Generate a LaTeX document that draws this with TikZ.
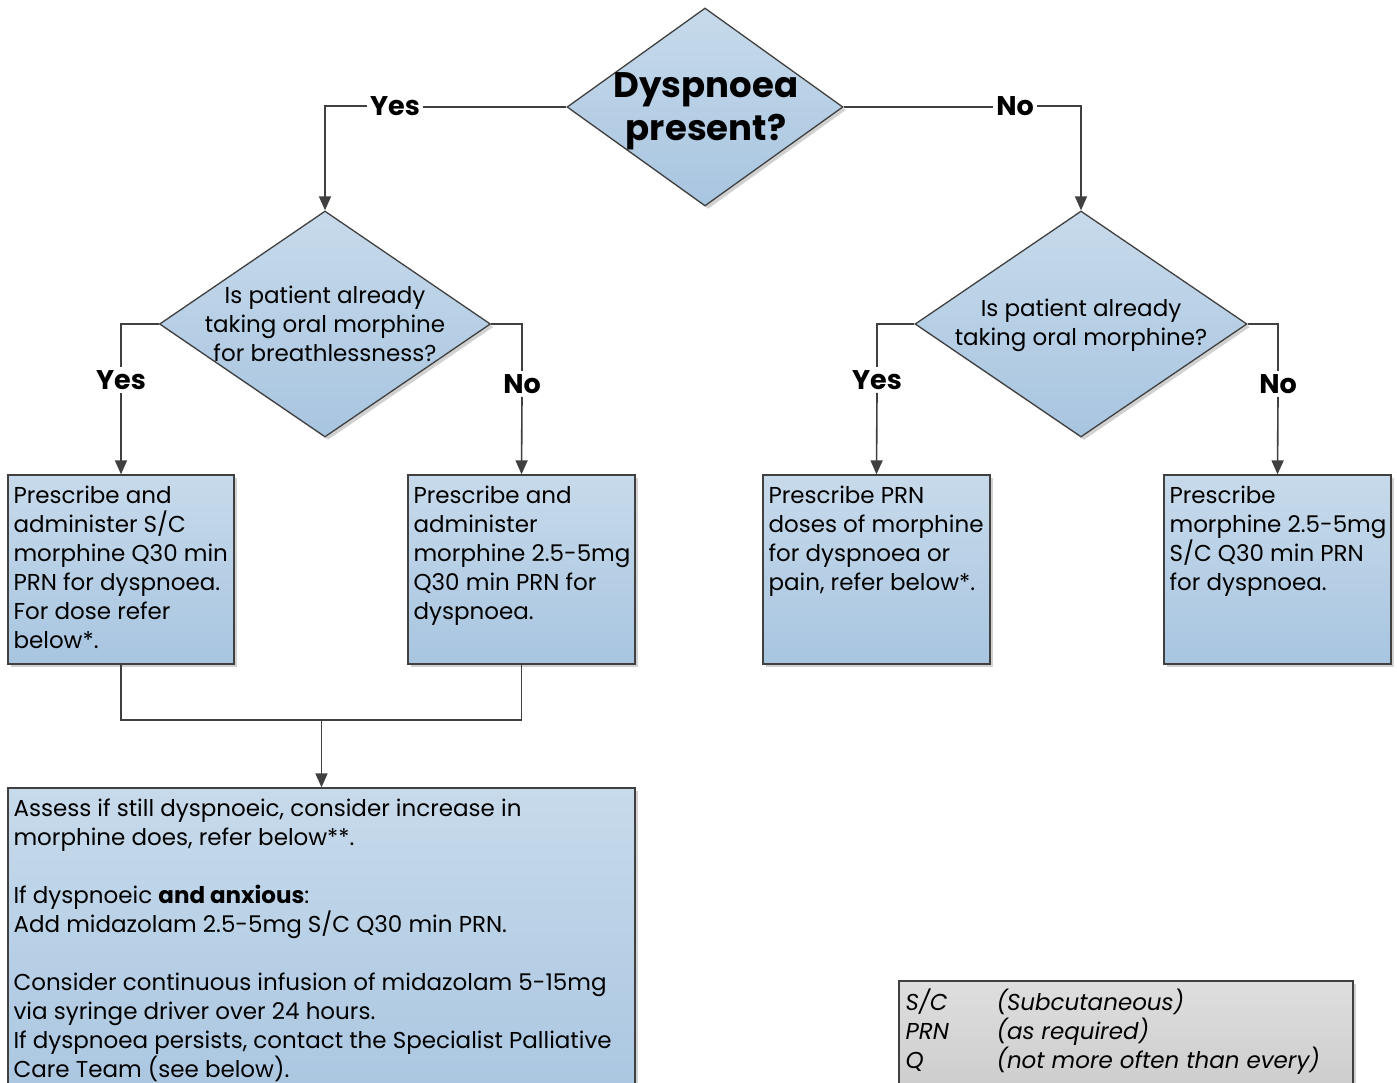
\documentclass[tikz,border=0pt]{standalone}
\usepackage{fontspec}
\setmainfont{Poppins}
\usetikzlibrary{shapes.geometric,arrows.meta,shadows}
\definecolor{bluetop}{RGB}{199,218,235}
\definecolor{bluebot}{RGB}{168,197,224}
\definecolor{edgec}{RGB}{64,64,64}
\definecolor{greytop}{RGB}{222,222,222}
\definecolor{greybot}{RGB}{200,200,200}
\tikzset{
  shad/.style={drop shadow={shadow xshift=3pt,shadow yshift=-3pt,fill=black,opacity=0.18}},
  dia/.style={diamond, draw=edgec, line width=1.3pt, top color=bluetop, bottom color=bluebot, inner sep=0pt, shad},
  boxn/.style={rectangle, draw=edgec, line width=1.3pt, top color=bluetop, bottom color=bluebot, inner sep=0pt, shad},
  legn/.style={rectangle, draw=edgec, line width=1.3pt, top color=greytop, bottom color=greybot, inner sep=0pt, shad},
  txt/.style={anchor=north west, inner sep=0pt, align=left, font=\fontsize{23}{29}\selectfont},
  dtxt/.style={inner sep=0pt, align=center, font=\fontsize{23}{29}\selectfont},
  lbl/.style={inner sep=3pt, fill=white, font=\fontsize{27}{30}\selectfont\bfseries},
  ln/.style={draw=edgec, line width=1.6pt},
  arr/.style={ln, -{Triangle[length=14pt,width=12pt]}},
}
\begin{document}
\begin{tikzpicture}[x=1pt,y=-1pt]
\path[use as bounding box] (0,0) rectangle (1397,1083);
\clip (0,0) rectangle (1397,1083);
\fill[white] (0,0) rectangle (1397,1083);

% diamonds
\node[dia, minimum width=276pt, minimum height=198pt] (d0) at (705,107) {};
\node[inner sep=0pt, align=center, font=\fontsize{35.5}{43}\selectfont\bfseries] (d0t) at (706,111) {Dyspnoea\\present?};
\node[dia, minimum width=331pt, minimum height=226pt] (dl) at (325,324) {};
\node[dtxt] (dlt) at (325,324) {Is patient already\\taking oral morphine\\for breathlessness?};
\node[dia, minimum width=332pt, minimum height=226pt] (dr) at (1081,324) {};
\node[dtxt] (drt) at (1081,325) {Is patient already\\taking oral morphine?};

% boxes
\node[boxn, minimum width=226pt, minimum height=189pt] (b1) at (121,569.5) {};
\node[boxn, minimum width=227pt, minimum height=189pt] (b2) at (521.5,569.5) {};
\node[boxn, minimum width=227pt, minimum height=189pt] (b3) at (876.5,569.5) {};
\node[boxn, minimum width=227pt, minimum height=189pt] (b4) at (1277.5,569.5) {};
\node[boxn, minimum width=627pt, minimum height=330pt] (b5) at (321.5,953) {};
\node[legn, minimum width=454pt, minimum height=140pt] (lg) at (1126,1051) {};

\node[txt] (t1) at ([xshift=6pt,yshift=-11pt]b1.north west) {Prescribe and\\administer S/C\\morphine Q30 min\\PRN for dyspnoea.\\For dose refer\\below*.};
\node[txt] (t2) at ([xshift=6pt,yshift=-11pt]b2.north west) {Prescribe and\\administer\\morphine 2.5-5mg\\Q30 min PRN for\\dyspnoea.};
\node[txt] (t3) at ([xshift=6pt,yshift=-11pt]b3.north west) {Prescribe PRN\\doses of morphine\\for dyspnoea or\\pain, refer below*.};
\node[txt] (t4) at ([xshift=6pt,yshift=-11pt]b4.north west) {Prescribe\\morphine 2.5-5mg\\S/C Q30 min PRN\\for dyspnoea.};
\node[txt] (t5) at ([xshift=6pt,yshift=-11pt]b5.north west) {Assess if still dyspnoeic, consider increase in\\morphine does, refer below**.\\[29pt]If dyspnoeic \textbf{and anxious}:\\Add midazolam 2.5-5mg S/C Q30 min PRN.\\[29pt]Consider continuous infusion of midazolam 5-15mg\\via syringe driver over 24 hours.\\If dyspnoea persists, contact the Specialist Palliative\\Care Team (see below).};
\node[txt, font=\fontsize{23}{29}\selectfont\itshape] (lgk) at ([xshift=7pt,yshift=-8pt]lg.north west) {S/C\\PRN\\Q};
\node[txt, font=\fontsize{23}{29}\selectfont\itshape] (lgv) at ([xshift=98pt,yshift=-8pt]lg.north west) {(Subcutaneous)\\(as required)\\(not more often than every)};

% labels
\node[lbl] (y0) at (395,106) {Yes};
\node[lbl] (n0) at (1015,106) {No};
\node[lbl] (y1) at (121,380) {Yes};
\node[lbl] (n1) at (522,384) {No};
\node[lbl] (y2) at (877,380) {Yes};
\node[lbl] (n2) at (1278,384) {No};
\coordinate (m) at (321.5,720);

% connectors
\draw[ln] (d0.west) -- (d0.west -| y0.east);
\draw[arr] (y0.west) -| (dl.north);
\draw[ln] (d0.east) -- (d0.east -| n0.west);
\draw[arr] (n0.east) -| (dr.north);
\draw[ln] (dl.west) -| (y1.north);
\draw[arr] (y1.south) -- (b1.north);
\draw[ln] (dl.east) -| (n1.north);
\draw[arr] (n1.south) -- (b2.north);
\draw[ln] (dr.west) -| (y2.north);
\draw[arr] (y2.south) -- (b3.north);
\draw[ln] (dr.east) -| (n2.north);
\draw[arr] (n2.south) -- (b4.north);
\draw[ln] (b1.south) |- (m);
\draw[ln] (b2.south) |- (m);
\draw[arr] (m) -- (b5.north);
\end{tikzpicture}
\end{document}
